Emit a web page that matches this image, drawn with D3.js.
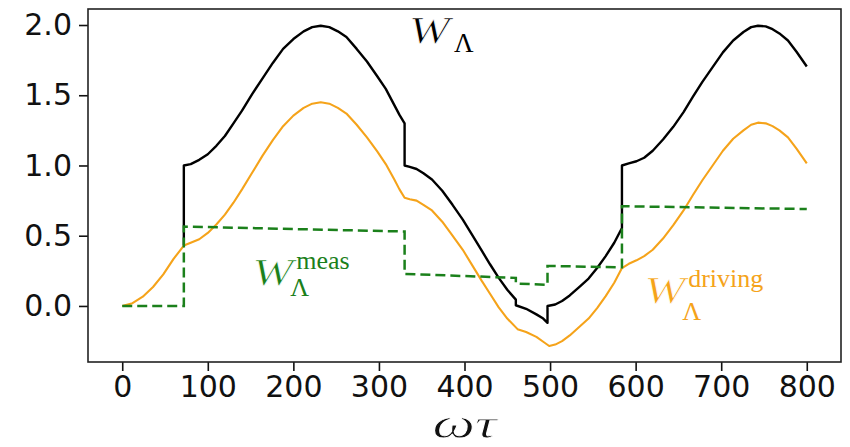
<!DOCTYPE html>
<html>
<head>
<meta charset="utf-8">
<script src="https://cdn.jsdelivr.net/npm/d3@7"></script>
<style>
  html, body { margin: 0; padding: 0; background: #fff; }
  svg { display: block; }
</style>
</head>
<body>
<svg id="chart" width="850" height="447"></svg>
<script>
// ωτ sample points and values for each curve
const drivingT = [0, 12, 24, 36, 48, 60, 72, 80, 90, 100, 110, 120, 130, 140, 152, 164, 176, 188, 200, 212, 222, 232, 242, 252, 262, 274, 286, 298, 308, 318, 324, 330,
  336, 344, 352, 362, 374, 386, 398, 410, 420, 430, 440, 450, 462, 472, 484, 492, 499,
  506, 514, 523, 535, 545, 555, 565, 575, 584, 592, 601, 610, 620, 632, 644, 656, 667, 678, 690, 702, 714, 726, 735, 743, 752, 760, 768, 778, 788, 800];
const drivingV = [0, 0.02, 0.066, 0.135, 0.225, 0.335, 0.43, 0.45, 0.475, 0.52, 0.58, 0.65, 0.735, 0.83, 0.95, 1.07, 1.18, 1.28, 1.355, 1.41, 1.44, 1.45, 1.44, 1.41, 1.37, 1.29, 1.2, 1.1, 1.01, 0.9, 0.83, 0.77,
  0.76, 0.75, 0.72, 0.68, 0.6, 0.5, 0.4, 0.28, 0.18, 0.085, -0.01, -0.09, -0.165, -0.185, -0.22, -0.255, -0.285,
  -0.275, -0.25, -0.21, -0.145, -0.09, -0.015, 0.07, 0.165, 0.27, 0.3, 0.325, 0.355, 0.4, 0.48, 0.575, 0.68, 0.79, 0.895, 1.0, 1.105, 1.19, 1.25, 1.29, 1.305, 1.3, 1.28, 1.25, 1.2, 1.12, 1.015];

// Total W starts at the first measurement and jumps at each one
const totalT = [72, 72, 80, 90, 100, 110, 120, 130, 140, 152, 164, 176, 188, 200, 212, 222, 232, 242, 252, 262, 274, 286, 298, 308, 318, 324, 330, 330,
  336, 344, 352, 362, 374, 386, 398, 410, 420, 430, 440, 450, 460, 460, 472, 484, 492, 497, 497,
  506, 514, 523, 535, 545, 555, 565, 575, 584, 584, 592, 601, 610, 620, 632, 644, 656, 667, 678, 690, 702, 714, 726, 735, 743, 752, 760, 768, 778, 788, 800];
const totalV = [0.43, 1.0, 1.01, 1.04, 1.08, 1.14, 1.21, 1.3, 1.39, 1.51, 1.62, 1.73, 1.83, 1.9, 1.955, 1.985, 1.995, 1.985, 1.955, 1.915, 1.83, 1.74, 1.635, 1.545, 1.43, 1.36, 1.3, 1.0,
  0.99, 0.975, 0.945, 0.9, 0.82, 0.72, 0.615, 0.495, 0.395, 0.295, 0.2, 0.115, 0.045, 0.005, -0.02, -0.06, -0.09, -0.12, 0.0,
  0.01, 0.035, 0.075, 0.14, 0.195, 0.27, 0.355, 0.45, 0.555, 1.0, 1.015, 1.03, 1.055, 1.105, 1.185, 1.275, 1.38, 1.49, 1.595, 1.7, 1.805, 1.89, 1.95, 1.985, 1.995, 1.99, 1.97, 1.94, 1.89, 1.81, 1.705];

const measT = [0, 72, 72, 330, 330, 460, 460, 497, 497, 584, 584, 800];
const measV = [0, 0, 0.565, 0.53, 0.228, 0.2, 0.16, 0.15, 0.285, 0.275, 0.71, 0.69];

const xTicks = [0, 100, 200, 300, 400, 500, 600, 700, 800];
const yTicks = [0.0, 0.5, 1.0, 1.5, 2.0];

// Text labels placed at data coordinates (left edge of W, baseline)
const labels = [
  { t: 335, v: 1.875, sup: "", color: "#000000" },
  { t: 152, v: 0.15, sup: "meas", color: "#1b801b" },
  { t: 610, v: 0.021, sup: "driving", color: "#f5a31a" }
];

const svg = d3.select("#chart");
const margin = { left: 88, top: 9, right: 850 - 841, bottom: 447 - 362 };
const W = 850, H = 447;

const x = d3.scaleLinear().domain([-40, 840]).range([margin.left, W - margin.right]);
const y = d3.scaleLinear().domain([-0.399, 2.114]).range([H - margin.bottom, margin.top]);

const zip = (ts, vs) => ts.map((t, i) => [t, vs[i]]);
const line = d3.line().x(d => x(d[0])).y(d => y(d[1]));

const plot = svg.append("g");
plot.append("path").datum(zip(totalT, totalV))
  .attr("d", line).attr("fill", "none").attr("stroke", "#000").attr("stroke-width", 2.4)
  .attr("stroke-linejoin", "round");
plot.append("path").datum(zip(drivingT, drivingV))
  .attr("d", line).attr("fill", "none").attr("stroke", "#f5a31a").attr("stroke-width", 2.1)
  .attr("stroke-linejoin", "round");
plot.append("path").datum(zip(measT, measV))
  .attr("d", line).attr("fill", "none").attr("stroke", "#1b801b").attr("stroke-width", 2.5)
  .attr("stroke-dasharray", "10,5");

// Axes
const tickFont = "'DejaVu Sans', sans-serif";
const xAxis = d3.axisBottom(x).tickValues(xTicks).tickFormat(d3.format("d")).tickSizeOuter(0).tickSize(9).tickPadding(5);
const yAxis = d3.axisLeft(y).tickValues(yTicks).tickFormat(d3.format(".1f")).tickSizeOuter(0).tickSize(9).tickPadding(7);

const gx = svg.append("g").attr("transform", `translate(0,${H - margin.bottom})`).call(xAxis);
const gy = svg.append("g").attr("transform", `translate(${margin.left},0)`).call(yAxis);
[gx, gy].forEach(g => {
  g.select(".domain").remove();
  g.selectAll(".tick line").attr("stroke", "#111").attr("stroke-width", 1.6);
  g.selectAll(".tick text").attr("fill", "#111").style("font-family", tickFont).style("font-size", "30px");
});

// Frame
svg.append("rect")
  .attr("x", margin.left).attr("y", margin.top)
  .attr("width", W - margin.left - margin.right).attr("height", H - margin.top - margin.bottom)
  .attr("fill", "none").attr("stroke", "#222").attr("stroke-width", 1.6);

// Math-style labels; a thin white outline keeps stretched glyphs light
const serif = "'Liberation Serif', 'Times New Roman', serif";
labels.forEach(l => {
  const g = svg.append("g").attr("fill", l.color).style("font-family", serif);
  const px = x(l.t), py = y(l.v);
  const ww = 41;
  g.append("text").attr("x", px).attr("y", py)
    .attr("textLength", ww).attr("lengthAdjust", "spacingAndGlyphs")
    .attr("stroke", "#fff").attr("stroke-width", 0.7)
    .style("font-style", "italic").style("font-size", "37px").text("W");
  if (l.sup) {
    g.append("text").attr("x", px + ww + 3).attr("y", py - 16)
      .style("font-size", "26px").text(l.sup);
    g.append("text").attr("x", px + ww - 3).attr("y", py + (l.sup === "driving" ? 17 : 11))
      .style("font-size", "26px").text("Λ");
  } else {
    g.append("text").attr("x", px + ww + 4).attr("y", py + 9)
      .style("font-size", "27px").text("Λ");
  }
});

// x-axis label
svg.append("text")
  .attr("x", (margin.left + W - margin.right) / 2).attr("y", 438)
  .attr("text-anchor", "middle")
  .attr("textLength", 64).attr("lengthAdjust", "spacingAndGlyphs")
  .attr("stroke", "#fff").attr("stroke-width", 0.8)
  .style("font-family", serif).style("font-style", "italic").style("font-size", "42px")
  .attr("fill", "#111").text("ωτ");
</script>
</body>
</html>
